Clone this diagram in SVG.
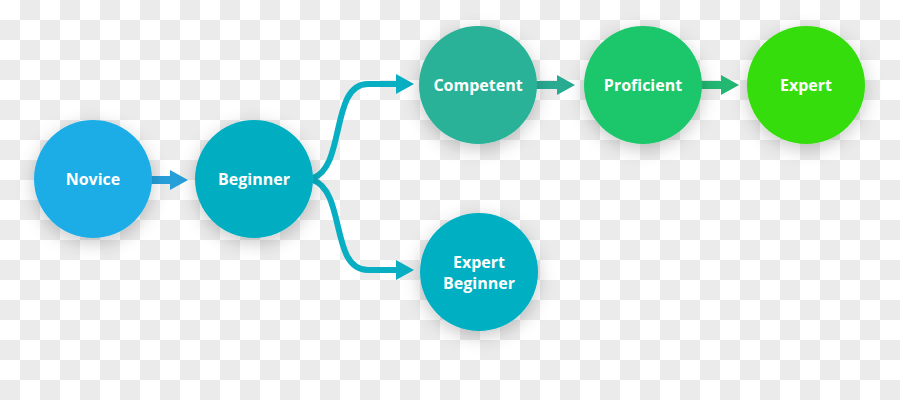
<svg xmlns="http://www.w3.org/2000/svg" width="900" height="400" viewBox="0 0 900 400">
<defs>
<pattern id="checker" x="0" y="0" width="40" height="40" patternUnits="userSpaceOnUse">
<rect width="40" height="40" fill="#ffffff"/>
<rect x="20" y="0" width="20" height="20" fill="#ebebeb"/>
<rect x="0" y="20" width="20" height="20" fill="#ebebeb"/>
</pattern>
<filter id="shadow" x="-50%" y="-50%" width="200%" height="200%">
<feDropShadow dx="0" dy="5" stdDeviation="9" flood-color="#000" flood-opacity="0.22"/>
</filter>
</defs>
<style>
.lbl{font-family:"Open Sans","Liberation Sans",sans-serif;font-weight:700;font-size:16px;fill:#ffffff;text-anchor:middle}
.node circle{filter:url(#shadow)}
.branch{fill:none;stroke:#08afc2;stroke-width:6}
</style>
<rect width="900" height="400" fill="url(#checker)"/>
<g id="connectors">
<polygon points="151,176 170,176 170,170 188,180 170,190 170,184 151,184" fill="#279fd9"/>
<polygon points="536,81 557,81 557,75 575,85 557,95 557,89 536,89" fill="#28ab92"/>
<polygon points="701,81 721,81 721,75 739,85 721,95 721,89 701,89" fill="#22b872"/>
<path class="branch" d="M313,178 C346,166 330,84 368,84 L398,84"/>
<path class="branch" d="M313,180 C346,192 330,270 368,270 L398,270"/>
<polygon points="396,74 414,84 396,94" fill="#08afc2"/>
<polygon points="396,260 414,270 396,280" fill="#08afc2"/>
</g>
<g id="novice" class="node"><circle cx="93" cy="179" r="59" fill="#1fade6"/><text class="lbl" x="93" y="184.5">Novice</text></g>
<g id="beginner" class="node"><circle cx="254" cy="179" r="59" fill="#03adc1"/><text class="lbl" x="254" y="184.5">Beginner</text></g>
<g id="competent" class="node"><circle cx="478" cy="85" r="59" fill="#2bb298"/><text class="lbl" x="478" y="90.5">Competent</text></g>
<g id="proficient" class="node"><circle cx="643" cy="85" r="59" fill="#1ec66b"/><text class="lbl" x="643" y="90.5">Proficient</text></g>
<g id="expert" class="node"><circle cx="806" cy="85" r="59" fill="#34dd0b"/><text class="lbl" x="806" y="90.5">Expert</text></g>
<g id="expert-beginner" class="node"><circle cx="479" cy="272" r="59" fill="#04afc2"/><text class="lbl" x="479" y="267.5">Expert</text><text class="lbl" x="479" y="288.5">Beginner</text></g>
</svg>
